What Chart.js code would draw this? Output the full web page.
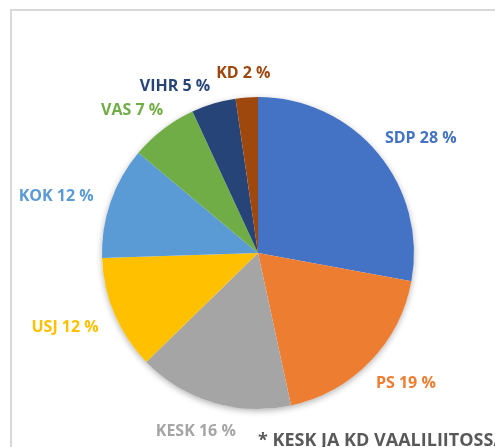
<!DOCTYPE html>
<html>
<head>
<meta charset="utf-8">
<script src="https://cdn.jsdelivr.net/npm/chart.js@4"></script>
<style>
  html, body { margin: 0; padding: 0; background: #fff; }
  #wrap { width: 495px; height: 447px; position: relative; }
</style>
</head>
<body>
<div id="wrap"><canvas id="myChart" width="495" height="447"></canvas></div>
<script>
const parties = ["SDP", "PS", "KESK", "USJ", "KOK", "VAS", "VIHR", "KD"];
const shares = [27.9, 18.7, 16.1, 11.8, 11.6, 7.0, 4.6, 2.3];
const colors = ["#4472C4", "#ED7D31", "#A5A5A5", "#FFC000", "#5B9BD5", "#70AD47", "#264478", "#9E480E"];
const footnote = "* KESK JA KD VAALILIITOSSA";

const labelFont = "bold 16px 'Open Sans'";

// frame + soft shadow under the pie
const background = {
    id: "background",
    beforeDraw(chart) {
        const ctx = chart.ctx;
        ctx.save();
        ctx.strokeStyle = "#d9d9d9";
        ctx.lineWidth = 2;
        ctx.beginPath();
        ctx.moveTo(11, chart.height + 2);
        ctx.lineTo(11, 10);
        ctx.lineTo(chart.width + 2, 10);
        ctx.stroke();
        ctx.restore();
    },
    beforeDatasetsDraw(chart) {
        const arc = chart.getDatasetMeta(0).data[0];
        const ctx = chart.ctx;
        ctx.save();
        ctx.shadowColor = "rgba(0,0,0,0.3)";
        ctx.shadowBlur = 6;
        ctx.shadowOffsetY = 2;
        ctx.fillStyle = "#fff";
        ctx.beginPath();
        ctx.arc(arc.x, arc.y, arc.outerRadius, 0, Math.PI * 2);
        ctx.fill();
        ctx.restore();
    }
};

// outside-end labels, Excel style
const outsideLabels = {
    id: "outsideLabels",
    afterDatasetsDraw(chart) {
        const ctx = chart.ctx;
        const meta = chart.getDatasetMeta(0);
        ctx.save();
        ctx.font = labelFont;
        ctx.textAlign = "center";
        ctx.textBaseline = "middle";
        const h = 15;
        const boxes = meta.data.map((arc, i) => {
            const a = (arc.startAngle + arc.endAngle) / 2;
            const dx = Math.cos(a), dy = Math.sin(a);
            const text = parties[i] + " " + Math.round(shares[i]) + " %";
            const w = ctx.measureText(text).width;
            const r = arc.outerRadius + 20;
            return {
                text, w, dx,
                x: arc.x + dx * r + dx * w / 2,
                y: arc.y + dy * r + dy * h / 2 + 3
            };
        });
        // push overlapping neighbours apart sideways
        for (let i = boxes.length - 2; i >= 0; i--) {
            const b = boxes[i], n = boxes[i + 1];
            const overlapX = (b.w + n.w) / 2 + 6 - Math.abs(b.x - n.x);
            if (overlapX > 0 && Math.abs(b.y - n.y) < h + 2) {
                b.x += (b.x < n.x ? -overlapX : overlapX);
                b.y += 6;
            }
        }
        boxes.forEach((b, i) => {
            ctx.fillStyle = colors[i];
            ctx.fillText(b.text, b.x, b.y);
        });

        ctx.fillStyle = "#595959";
        ctx.font = "bold 18px 'Open Sans'";
        ctx.textAlign = "left";
        ctx.textBaseline = "alphabetic";
        ctx.fillText(footnote, 258, 446);
        ctx.restore();
    }
};

const ctx = document.getElementById("myChart").getContext("2d");
const myChart = new Chart(ctx, {
    type: "pie",
    data: {
        labels: parties,
        datasets: [{
            data: shares,
            backgroundColor: colors,
            borderWidth: 0
        }]
    },
    options: {
        responsive: false,
        animation: false,
        layout: {
            padding: { top: 97, bottom: 38, left: 102, right: 81 }
        },
        plugins: {
            legend: { display: false },
            tooltip: { enabled: false }
        }
    },
    plugins: [background, outsideLabels]
});
</script>
</body>
</html>
